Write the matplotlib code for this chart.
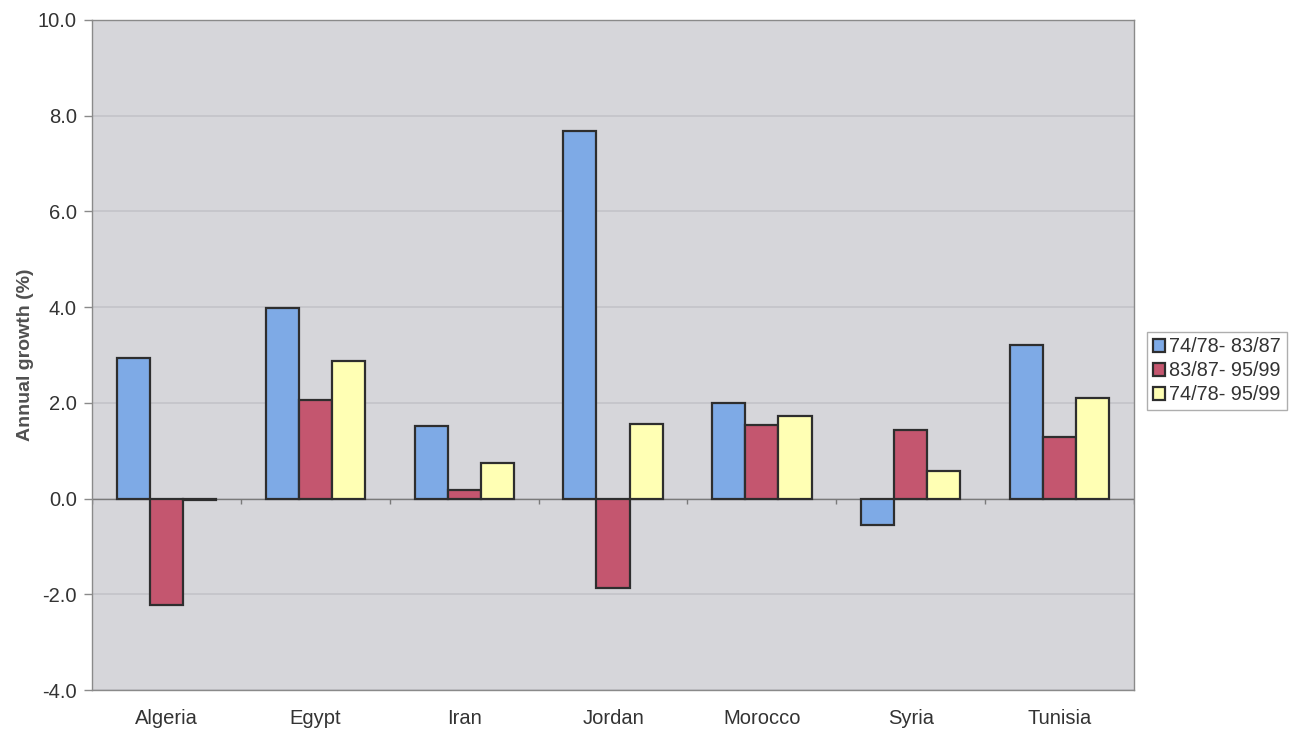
import matplotlib
matplotlib.use("Agg")
import matplotlib.pyplot as plt
import numpy as np

countries = ["Algeria", "Egypt", "Iran", "Jordan", "Morocco", "Syria", "Tunisia"]
series_labels = ["74/78- 83/87", "83/87- 95/99", "74/78- 95/99"]
growth_7478_8387 = [2.93, 3.98, 1.52, 7.67, 2.00, -0.56, 3.21]
growth_8387_9599 = [-2.23, 2.06, 0.18, -1.87, 1.54, 1.44, 1.29]
growth_7478_9599 = [-0.04, 2.88, 0.75, 1.56, 1.73, 0.58, 2.10]
y_ticks = [-4.0, -2.0, 0.0, 2.0, 4.0, 6.0, 8.0, 10.0]

colors = ["#7eaae6", "#c4566f", "#ffffb4"]
plt.rcParams["font.family"] = ["Liberation Sans", "DejaVu Sans"]

fig = plt.figure(figsize=(12.94, 7.34), dpi=100)
ax = fig.add_axes([0.0711, 0.0599, 0.8053, 0.9129])
ax.set_facecolor("#d6d6da")

x = np.arange(len(countries))
w = 1 / 4.5
series = [growth_7478_8387, growth_8387_9599, growth_7478_9599]
handles = []
for i, (vals, col, lab) in enumerate(zip(series, colors, series_labels)):
    h = ax.bar(x + (i - 1) * w, vals, width=w, color=col, edgecolor="#2e2e2e",
               linewidth=1.6, label=lab, zorder=3)
    handles.append(h)

ax.set_xlim(-0.5, len(countries) - 0.5)
ax.set_ylim(y_ticks[0], y_ticks[-1])
ax.set_yticks(y_ticks)
ax.set_yticklabels([f"{v:.1f}" for v in y_ticks])
ax.yaxis.grid(True, color="#c3c3c8", linewidth=1.2, zorder=0)
ax.set_axisbelow(True)

# category axis drawn along zero with tick marks between groups
ax.axhline(0, color="#7a7a7a", linewidth=1.0, zorder=2)
ax.vlines(np.arange(len(countries) + 1) - 0.5, -0.12, 0, color="#7a7a7a",
          linewidth=1.0, zorder=2)

ax.set_xticks(x)
ax.set_xticklabels(countries)
ax.tick_params(axis="x", length=0, pad=14, labelsize=14.5, colors="#333333")
ax.tick_params(axis="y", length=6, width=1, color="#8a8a8a", labelsize=14.5,
               labelcolor="#333333", pad=5)

for s in ["left", "bottom", "top", "right"]:
    ax.spines[s].set_color("#8a8a8a")
    ax.spines[s].set_linewidth(1.0)

ax.set_ylabel("Annual growth (%)", fontsize=14, fontweight="bold",
              color="#505050", labelpad=3)

leg = fig.legend(handles=handles, labels=series_labels, loc="center left",
                 bbox_to_anchor=(0.8865, 0.4946), fontsize=14.3, frameon=True,
                 fancybox=False, edgecolor="#9a9a9a", handlelength=0.6,
                 handleheight=0.6, handletextpad=0.2, borderpad=0.3,
                 labelspacing=0.25, borderaxespad=0)
leg.get_frame().set_linewidth(1.0)
for t in leg.get_texts():
    t.set_color("#333333")

fig.savefig("out.png", dpi=100, facecolor="white")
